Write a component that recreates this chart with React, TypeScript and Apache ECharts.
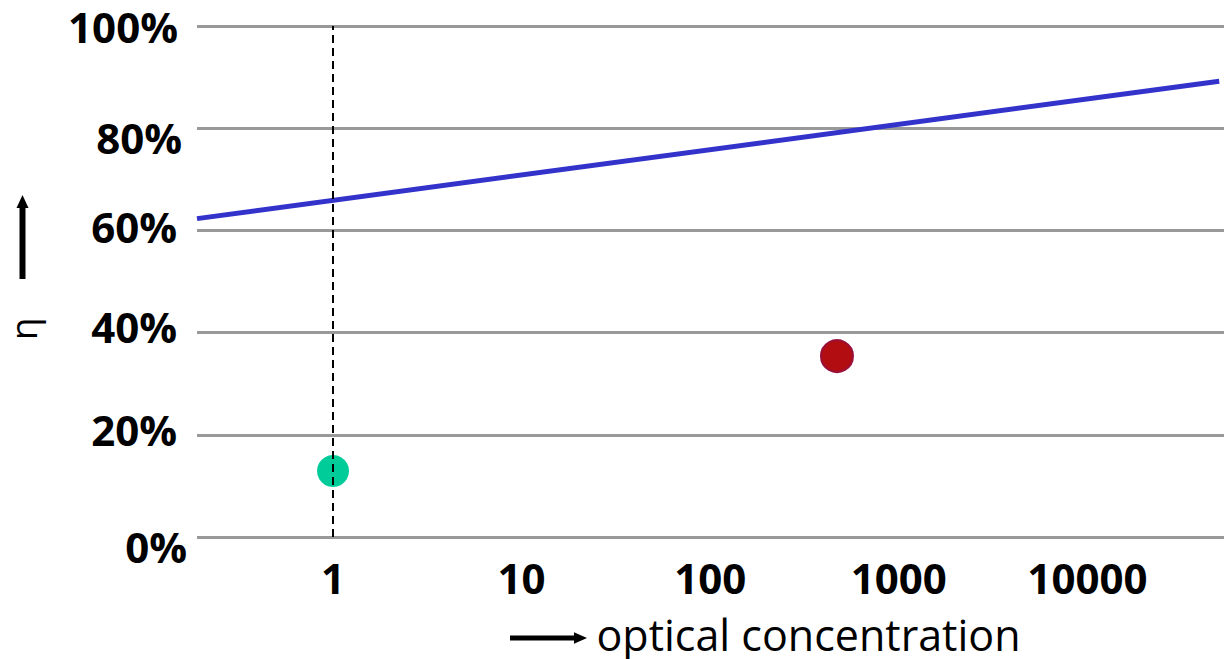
import { useEffect, useRef } from "react";
import * as echarts from "echarts";

// ---- data ----
const xAxisRange = [0.19, 53000];
const yAxisRange = [0, 100];
const yTickStep = 20;
const trendConcentration = [0.19, 50000];
const trendEfficiency = [62.3, 89.2];
const cellConcentration = [1, 470];
const cellEfficiency = [12.9, 35.4];
const referenceConcentration = 1;
const xAxisTitle = "optical concentration";
const yAxisTitle = "η";

const FONT = "'Open Sans', 'DejaVu Sans', sans-serif";

// per-label nudges for the y tick labels (top, right, bottom, left)
const yLabelPadding: Record<string, number[]> = {
  r100: [0, 9, 0, 0],
  r80: [18, 5, 0, 0],
  r60: [0, 10, 7, 0],
  r40: [0, 10, 12, 0],
  r20: [0, 10, 10, 0],
  r0: [19, 0, 0, 0],
};

const yRich: Record<string, any> = {};
Object.keys(yLabelPadding).forEach((k) => {
  yRich[k] = {
    fontFamily: FONT,
    fontSize: 42,
    fontWeight: "bold",
    color: "#000",
    lineHeight: 32,
    padding: yLabelPadding[k],
  };
});

export default function App() {
  const ref = useRef<HTMLDivElement>(null);

  useEffect(() => {
    if (!ref.current) return;
    const chart = echarts.init(ref.current, null, { renderer: "svg" });

    const trendData = trendConcentration.map((c, i) => [c, trendEfficiency[i]]);

    const option: any = {
      animation: false,
      backgroundColor: "#fff",
      grid: {
        left: 197,
        right: 2,
        top: 26,
        bottom: 122,
        containLabel: false,
        outerBoundsMode: "none",
      },
      xAxis: {
        type: "log",
        logBase: 10,
        min: xAxisRange[0],
        max: xAxisRange[1],
        name: xAxisTitle,
        nameLocation: "middle",
        nameGap: 81.5,
        nameTextStyle: {
          fontFamily: FONT,
          fontSize: 43,
          lineHeight: 32,
          color: "#000",
          padding: [0, 0, 0, 196],
        },
        axisLine: { show: false },
        axisTick: { show: false },
        splitLine: { show: false },
        axisLabel: {
          showMinLabel: false,
          showMaxLabel: false,
          margin: 19,
          fontFamily: FONT,
          fontSize: 42,
          fontWeight: "bold",
          color: "#000",
          formatter: (v: number) => {
            const l = Math.log10(v);
            return Math.abs(l - Math.round(l)) < 1e-6 ? String(Math.round(v)) : "";
          },
        },
      },
      yAxis: {
        type: "value",
        min: yAxisRange[0],
        max: yAxisRange[1],
        interval: yTickStep,
        name: yAxisTitle,
        nameLocation: "middle",
        nameRotate: 90,
        nameGap: 161.5,
        nameTextStyle: {
          fontFamily: FONT,
          fontSize: 37,
          lineHeight: 26,
          color: "#000",
          padding: [0, 95, 0, 0],
        },
        axisLine: { show: false },
        axisTick: { show: false },
        splitLine: { show: true, lineStyle: { color: "#999999", width: 3 } },
        axisLabel: {
          margin: 10,
          fontFamily: FONT,
          fontSize: 42,
          fontWeight: "bold",
          color: "#000",
          formatter: (v: number) => `{r${v}|${v}%}`,
          rich: yRich,
        },
      },
      series: [
        {
          type: "line",
          data: [],
          z: 1,
          silent: true,
          markLine: {
            silent: true,
            symbol: ["none", "none"],
            label: { show: false },
            lineStyle: { color: "#000", width: 2, type: [8, 5] },
            data: [{ xAxis: referenceConcentration }],
          },
        },
        {
          type: "line",
          data: trendData,
          z: 3,
          symbol: "none",
          lineStyle: { color: "#3333CC", width: 5 },
        },
        {
          type: "scatter",
          z: 4,
          data: [[cellConcentration[0], cellEfficiency[0]]],
          symbolSize: 32,
          itemStyle: { color: "#00CC99", opacity: 1 },
        },
        {
          type: "scatter",
          z: 4,
          data: [[cellConcentration[1], cellEfficiency[1]]],
          symbolSize: 32,
          itemStyle: { color: "#B20D10", borderColor: "#99103A", borderWidth: 2, opacity: 1 },
        },
      ],
      graphic: [
        {
          type: "line",
          shape: { x1: 510, y1: 638, x2: 577, y2: 638 },
          style: { stroke: "#000", lineWidth: 5 },
        },
        {
          type: "polygon",
          shape: { points: [[574, 632.3], [587, 638], [574, 643.7]] },
          style: { fill: "#000" },
        },
        {
          type: "line",
          shape: { x1: 22.5, y1: 279, x2: 22.5, y2: 205 },
          style: { stroke: "#000", lineWidth: 6 },
        },
        {
          type: "polygon",
          shape: { points: [[16.5, 208], [22.5, 195], [28.5, 208]] },
          style: { fill: "#000" },
        },
      ],
    };

    chart.setOption(option);
    return () => chart.dispose();
  }, []);

  return (
    <div
      ref={ref}
      style={{ position: "fixed", left: 0, top: 0, width: 1226, height: 659, background: "#fff" }}
    />
  );
}
